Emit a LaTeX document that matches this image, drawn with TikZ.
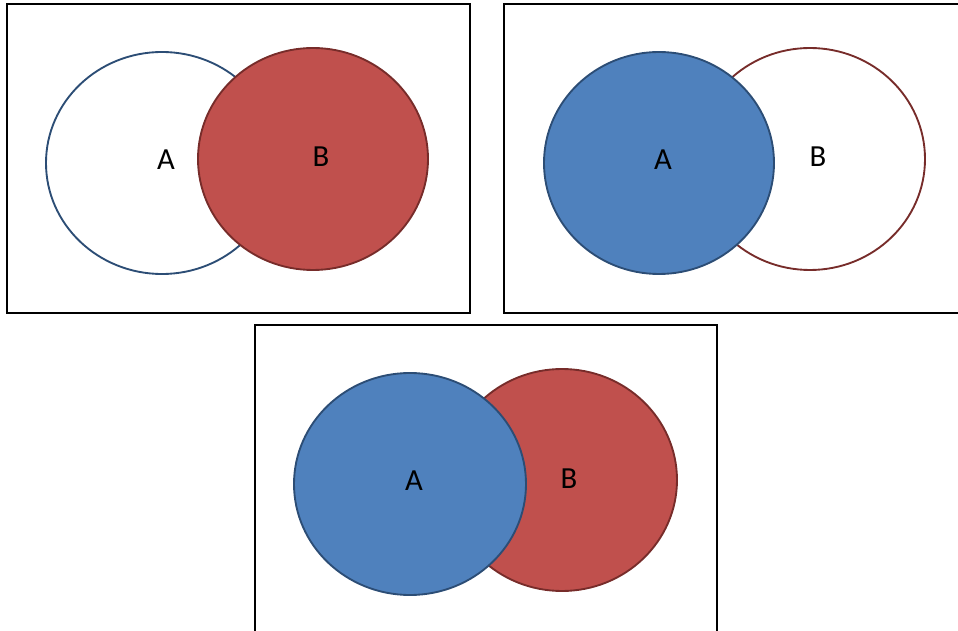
\documentclass[tikz,border=0pt]{standalone}
\usepackage{fontspec}
\setmainfont{Carlito}
\definecolor{blueF}{HTML}{4F81BD}
\definecolor{blueD}{HTML}{2C4D75}
\definecolor{redF}{HTML}{C0504D}
\definecolor{redD}{HTML}{772C2A}
\tikzset{
  frame/.style={draw=black, line width=1.5pt},
  setA/.style={draw=blueD, line width=1.4pt},
  setB/.style={draw=redD, line width=1.4pt},
  lbl/.style={font=\fontsize{23}{23}\selectfont, text=black, inner sep=0pt}
}
\begin{document}
\begin{tikzpicture}[x=0.75pt,y=-0.75pt]
\useasboundingbox (0,0) rectangle (958,631);
% box 1
\draw[frame] (7,4) rectangle (470,313);
\draw[setA, fill=white] (162,163) ellipse [x radius=116, y radius=111];
\draw[setB, fill=redF] (313,159) ellipse [x radius=115, y radius=111];
\node[lbl] (a1) at (166,160) {A};
\node[lbl] (b1) at (321,157) {B};
% box 2
\draw[frame] (504,4) rectangle (970,313);
\draw[setB, fill=white] (810,159) ellipse [x radius=115, y radius=111];
\draw[setA, fill=blueF] (659,163) ellipse [x radius=115, y radius=111];
\node[lbl] (a2) at (663,160) {A};
\node[lbl] (b2) at (818,157) {B};
% box 3
\draw[frame] (255,325) rectangle (717,645);
\draw[setB, fill=redF] (562,480) ellipse [x radius=115, y radius=111];
\draw[setA, fill=blueF] (410,484) ellipse [x radius=116, y radius=111];
\node[lbl] (a3) at (414,481) {A};
\node[lbl] (b3) at (569,479) {B};
\end{tikzpicture}
\end{document}
